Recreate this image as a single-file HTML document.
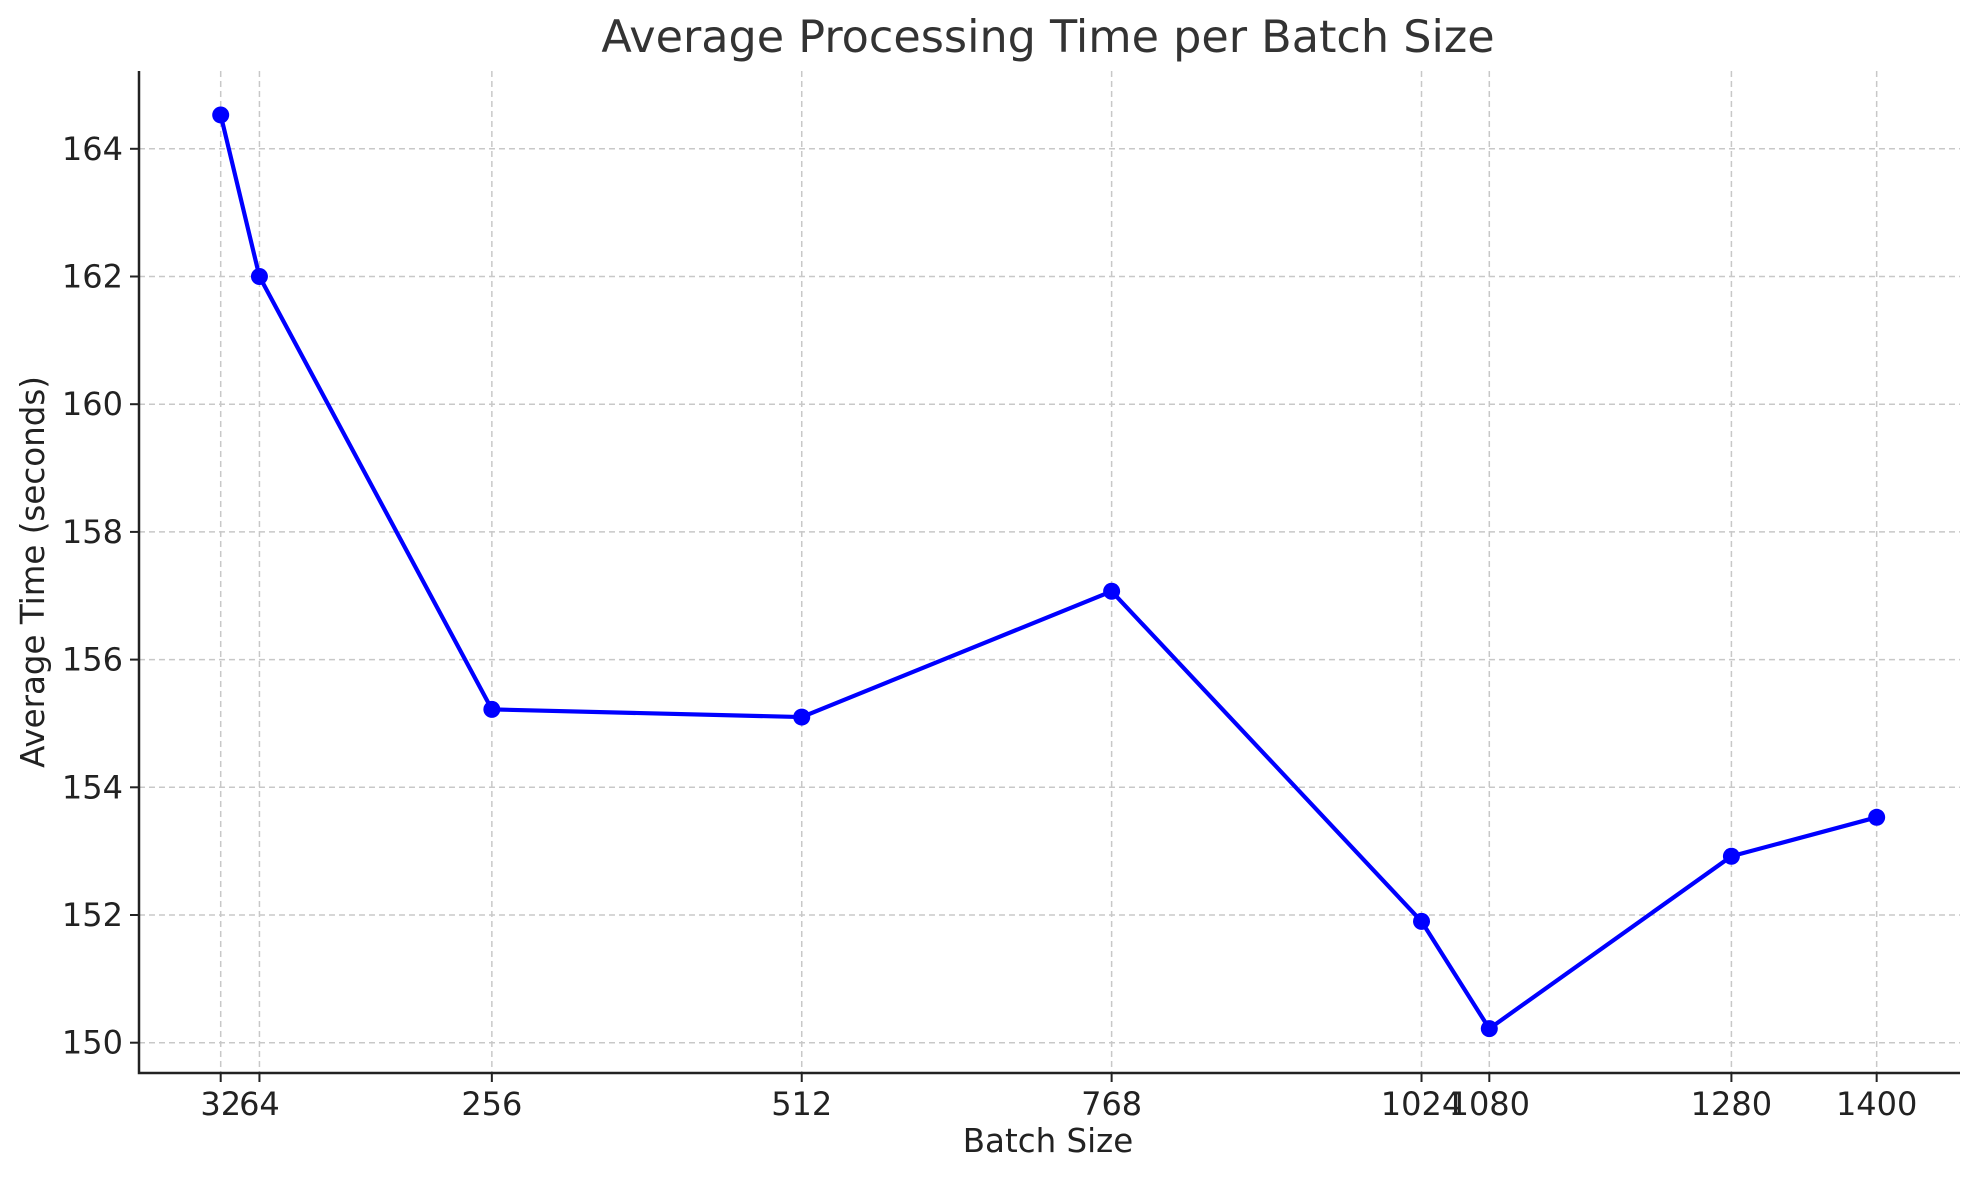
<!DOCTYPE html>
<html><head><meta charset="utf-8"><style>
body{margin:0;background:#fff;}
svg{display:block;font-family:"DejaVu Sans","Liberation Sans",sans-serif;}
</style></head><body>
<svg id="chart" width="1979" height="1180" xmlns="http://www.w3.org/2000/svg">
<text x="1048" y="52" font-size="44.5" fill="#333" text-anchor="middle">Average Processing Time per Batch Size</text>
<text x="1048" y="1152" font-size="32.5" fill="#222" text-anchor="middle">Batch Size</text>
<text transform="translate(44,572) rotate(-90)" font-size="32.5" fill="#222" text-anchor="middle">Average Time (seconds)</text>
<g id="grid"></g><g id="axes"></g><g id="series"></g>
</svg>
<script>
const batchSizes=[32,64,256,512,768,1024,1080,1280,1400];
const avgTimes=[164.53,162.0,155.22,155.1,157.07,151.9,150.22,152.92,153.53];
const xTickLabels=["32","64","256","512","768","1024","1080","1280","1400"];
const yTicks=[150,152,154,156,158,160,162,164];
const L=139,R=1960,T=71,B=1073;
function xs(v){return 220.7+(v-32)*1.2105;}
function ys(v){return 1042.7-(v-150)*63.85;}
const NS="http://www.w3.org/2000/svg";
function mk(tag,attrs,parent){const e=document.createElementNS(NS,tag);for(const k in attrs)e.setAttribute(k,attrs[k]);parent.appendChild(e);return e;}
const grid=document.getElementById('grid'),axes=document.getElementById('axes'),ser=document.getElementById('series');
yTicks.forEach(v=>{
 const y=ys(v);
 const g=mk('line',{x1:L,x2:R,y1:y,y2:y,stroke:'#c8c8c8','stroke-width':1.5,'stroke-dasharray':'6,4'},grid);
 
 
 const t=mk('line',{x1:L-9,x2:L,y1:y,y2:y,stroke:'#222','stroke-width':2},axes);
 
 
 const tx=mk('text',{x:L-16,y:y+11,'font-size':32,fill:'#222','text-anchor':'end'},axes);
 tx.textContent=v;
 
 
});
batchSizes.forEach((v,i)=>{
 const x=xs(v);
 const g=mk('line',{x1:x,x2:x,y1:T,y2:B,stroke:'#c8c8c8','stroke-width':1.5,'stroke-dasharray':'6,4'},grid);
 
 
 const t=mk('line',{x1:x,x2:x,y1:B,y2:B+9,stroke:'#222','stroke-width':2},axes);
 
 
 const tx=mk('text',{x:x,y:B+42,'font-size':32,fill:'#222','text-anchor':'middle'},axes);
 tx.textContent=xTickLabels[i];
 
 
});
const la=mk('path',{d:`M${L},${T} V${B} H${R}`,fill:'none',stroke:'#222','stroke-width':2.5},axes);


const pts=batchSizes.map((v,i)=>xs(v)+','+ys(avgTimes[i])).join(' ');
const pl=mk('polyline',{points:pts,fill:'none',stroke:'#0000ff','stroke-width':4.2,'stroke-linejoin':'round'},ser);


batchSizes.forEach((v,i)=>{
 const c=mk('circle',{cx:xs(v),cy:ys(avgTimes[i]),r:8.5,fill:'#0000ff'},ser);
 
 
});
</script>
</body></html>
